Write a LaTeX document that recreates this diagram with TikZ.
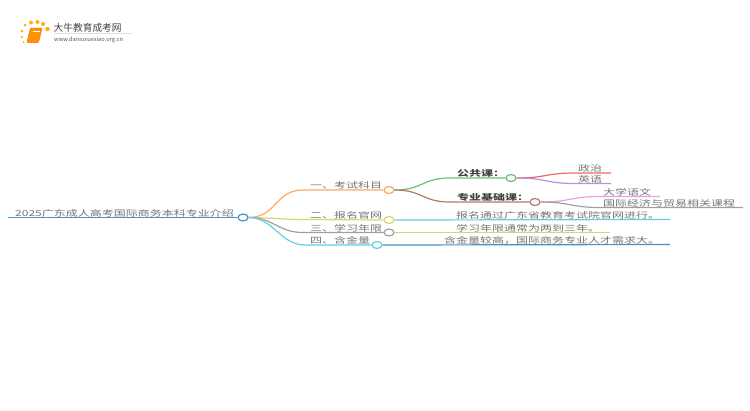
\documentclass[tikz,border=0pt]{standalone}
\usepackage{fontspec}
\setmainfont{Noto Sans CJK SC}
\usetikzlibrary{positioning,shapes.geometric}
\newcommand{\sq}[1]{\scalebox{1}[0.68]{#1}}
\definecolor{txt}{HTML}{737373}
\definecolor{cblue}{HTML}{4A90C2}
\definecolor{corange}{HTML}{FFA95E}
\definecolor{cgreen}{HTML}{67C26A}
\definecolor{cbrown}{HTML}{B5786C}
\definecolor{cyell}{HTML}{D8D86A}
\definecolor{ccyan}{HTML}{5FD0E4}
\definecolor{cgray}{HTML}{A0A0A0}
\definecolor{cred}{HTML}{E86A6A}
\definecolor{cpurp}{HTML}{B98FE0}
\definecolor{cpink}{HTML}{EE9FE0}
\tikzset{
  lab/.style={anchor=base west,inner sep=0pt,text=txt,font=\fontsize{12}{12}\selectfont},
  blab/.style={lab,text=black!75,font=\fontsize{12}{12}\selectfont\bfseries},
  hub/.style={ellipse,draw,line width=1.2pt,fill=white,minimum width=10pt,minimum height=7pt,inner sep=0pt},
  wire/.style={line width=1.2pt},
  dot/.style={circle,fill=#1,inner sep=0pt},
}
\begin{document}
\begin{tikzpicture}[x=1pt,y=-1pt]
\useasboundingbox (0,0) rectangle (750,410);
% logo
\node[dot=orange!60!yellow,minimum size=3pt] (s1) at (22,31) {};
\node[dot=orange!60!yellow,minimum size=3pt] (s2) at (25,25) {};
\node[dot=orange!60!yellow,minimum size=4pt] (s3) at (31,22.5) {};
\node[dot=orange!60!yellow,minimum size=4pt] (s4) at (37.5,22) {};
\node[dot=orange!60!yellow,minimum size=4pt] (s5) at (43,24) {};
\node[dot=orange!60!yellow,minimum size=4.5pt] (s6) at (47.5,29) {};
\node[dot=orange!60!yellow,minimum size=2.5pt] (s7) at (22,37) {};
\node[dot=orange!60!yellow,minimum size=2pt] (s8) at (23.5,42) {};
\filldraw[fill=orange!85!yellow,draw=orange!90!black,line width=.5pt,rounded corners=1pt] (30.5,28) -- (42,28) -- (38.5,42.5) -- (27,42.5) -- cycle;
\draw[white,line width=.5pt] (32.5,31) -- (39.5,31);
\node[anchor=base west,inner sep=0pt,text=black!75,font=\fontsize{9.7}{10}\selectfont] (lt) at (53.5,31) {大牛教育成考网};
\node[anchor=base west,inner sep=0pt,text=black!65,font=\fontsize{5.7}{6}\selectfont] (lu) at (54,41) {www.daniuxuexiao.org.cn};
\coordinate (la) at (54,33.5); \coordinate (lb) at (132,33.5);
\draw[black!12,line width=.5pt] (la) -- (lb);

% hubs
\node[hub,draw=cblue] (root) at (243,217.5) {};
\node[hub,draw=corange] (h1) at (389,190) {};
\node[hub,draw=cyell] (h2) at (389,220) {};
\node[hub,draw=cgray] (h3) at (389,232.5) {};
\node[hub,draw=ccyan] (h4) at (377,245) {};
\node[hub,draw=cgreen] (g1) at (511,178) {};
\node[hub,draw=cbrown] (g2) at (535,202) {};

% free ends
\coordinate (r0) at (8,217.5);
\coordinate (k1) at (303,190);
\coordinate (k2) at (303,219.5);
\coordinate (k3) at (303,232.5);
\coordinate (k4) at (305,245);
\coordinate (m1) at (450,178);
\coordinate (m2) at (450,202);
\coordinate (e2) at (670,219.5);
\coordinate (e3) at (610,232.5);
\coordinate (e4) at (670,244.5);
\coordinate (a1) at (575,173); \coordinate (a1e) at (611,173);
\coordinate (a2) at (575,183.5); \coordinate (a2e) at (611,183.5);
\coordinate (b1) at (600,196.5); \coordinate (b1e) at (660,196.5);
\coordinate (b2) at (600,207.5); \coordinate (b2e) at (743,207.5);

% connectors
\draw[wire,cblue] (r0) -- (root.west);
\draw[wire,corange] (root.east) .. controls +(28,0) and +(-28,0) .. (k1) -- (h1.west);
\draw[wire,cyell] (root.east) .. controls +(20,0) and +(-20,0) .. (k2) -- (h2.west);
\draw[wire,cgray] (root.east) .. controls +(25,0) and +(-25,0) .. (k3) -- (h3.west);
\draw[wire,ccyan] (root.east) .. controls +(25,0) and +(-25,0) .. (k4) -- (h4.west);
\draw[wire,cgreen] (h1.east) .. controls +(28,0) and +(-28,0) .. (m1) -- (g1.west);
\draw[wire,cbrown] (h1.east) .. controls +(28,0) and +(-28,0) .. (m2) -- (g2.west);
\draw[wire,ccyan] (h2.east) -- (e2);
\draw[wire,cyell] (h3.east) -- (e3);
\draw[wire,cblue] (h4.east) -- (e4);
\draw[wire,cred] (g1.east) .. controls +(30,0) and +(-30,0) .. (a1) -- (a1e);
\draw[wire,cpurp] (g1.east) .. controls +(30,0) and +(-30,0) .. (a2) -- (a2e);
\draw[wire,cpink] (g2.east) .. controls +(30,0) and +(-30,0) .. (b1) -- (b1e);
\draw[wire,cgray] (g2.east) .. controls +(30,0) and +(-30,0) .. (b2) -- (b2e);

% labels
\node[lab] (t0) at (15,216) {\sq{2025广东成人高考国际商务本科专业介绍}};
\node[lab] (t1) at (310,188.5) {\sq{一、考试科目}};
\node[lab] (t2) at (310,218) {\sq{二、报名官网}};
\node[lab] (t3) at (310,231) {\sq{三、学习年限}};
\node[lab] (t4) at (310,243.5) {\sq{四、含金量}};
\node[blab] (t5) at (457,176.5) {\sq{公共课：}};
\node[blab] (t6) at (457,200.5) {\sq{专业基础课：}};
\node[lab] (t7) at (578,171.5) {\sq{政治}};
\node[lab] (t8) at (578,182) {\sq{英语}};
\node[lab] (t9) at (603,195) {\sq{大学语文}};
\node[lab] (t10) at (603,206) {\sq{国际经济与贸易相关课程}};
\node[lab] (t11) at (456,218) {\sq{报名通过广东省教育考试院官网进行。}};
\node[lab] (t12) at (456,231) {\sq{学习年限通常为两到三年。}};
\node[lab] (t13) at (444,243.5) {\sq{含金量较高，国际商务专业人才需求大。}};
\end{tikzpicture}
\end{document}
